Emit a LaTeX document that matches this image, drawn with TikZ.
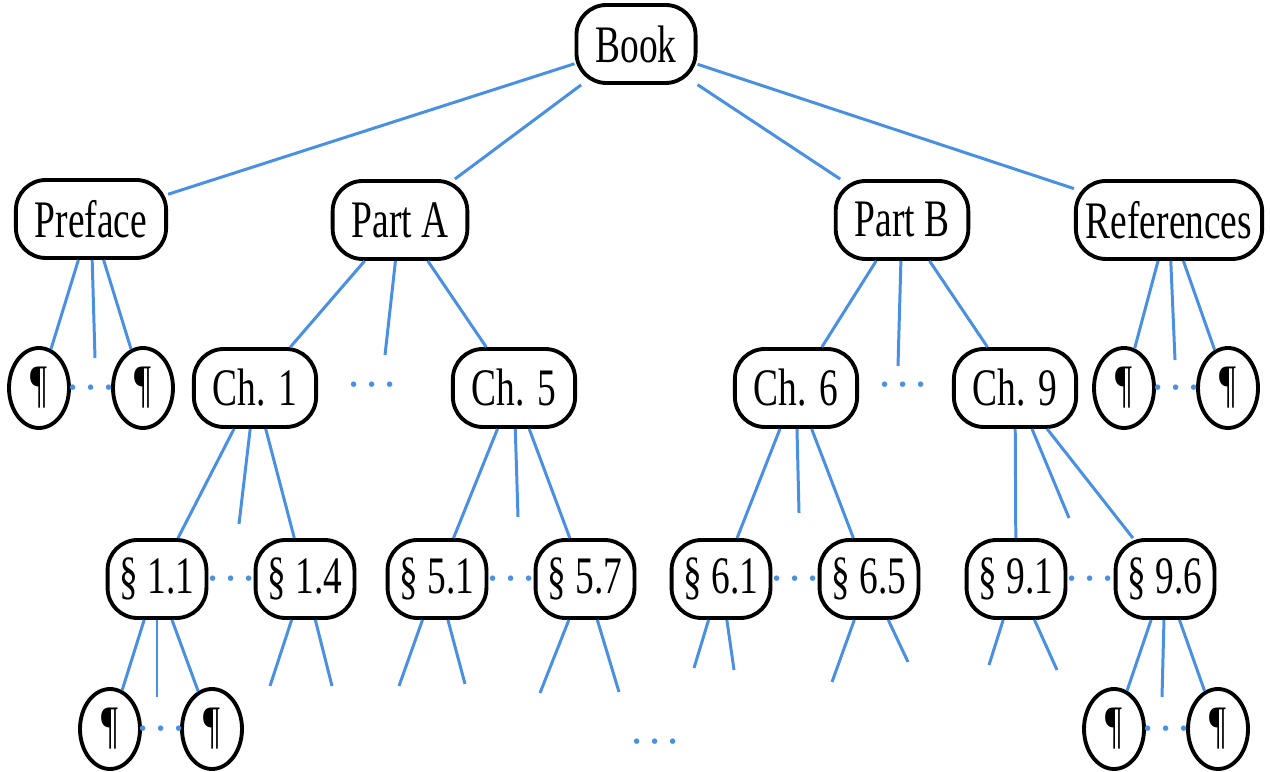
\documentclass[tikz,border=0pt]{standalone}
\usepackage{fontspec}
\setmainfont[FakeStretch=0.71]{Liberation Serif}
\usetikzlibrary{shapes.geometric}
\definecolor{treeblue}{RGB}{74,144,226}

\begin{document}
\begin{tikzpicture}[
        boxnode/.style={draw, line width=1.1pt, rounded corners=0.3cm, minimum height=0.78cm,
            inner xsep=0.19cm, inner ysep=0pt, font=\fontsize{15}{15}\selectfont},
        secnode/.style={boxnode, inner xsep=0.12cm},
        parnode/.style={draw, line width=1.1pt, ellipse, minimum width=0.6cm, minimum height=0.8cm,
            inner sep=0pt, font=\fontsize{15}{15}\selectfont},
        link/.style={treeblue, line width=0.85pt},
        moredots/.style={text=treeblue, font=\fontsize{10}{10}\selectfont\boldmath, inner sep=0pt}
    ]
        \useasboundingbox (0,0) rectangle (12.71,-7.72);

        % Root and the four parts
        \node[boxnode] (book) at (6.36,-0.44) {Book};
        \node[boxnode] (preface) at (0.91,-2.19) {Preface};
        \node[boxnode] (parta) at (4.00,-2.20) {Part A};
        \node[boxnode] (partb) at (9.02,-2.20) {Part B};
        \node[boxnode, inner xsep=0.1cm] (refs) at (11.69,-2.20) {References};

        % Chapters and paragraphs
        \node[parnode] (prefpa) at (0.39,-3.88) {¶};
        \node[parnode] (prefpb) at (1.43,-3.88) {¶};
        \node[boxnode] (ch1) at (2.55,-3.88) {Ch. 1};
        \node[boxnode] (ch5) at (5.14,-3.88) {Ch. 5};
        \node[boxnode] (ch6) at (7.96,-3.88) {Ch. 6};
        \node[boxnode] (ch9) at (10.15,-3.88) {Ch. 9};
        \node[parnode] (refpa) at (11.24,-3.88) {¶};
        \node[parnode] (refpb) at (12.28,-3.88) {¶};
        \node[moredots] (partadots) at (3.72,-3.85) {$\cdots$};
        \node[moredots] (partbdots) at (9.03,-3.85) {$\cdots$};

        % Sections
        \node[secnode] (s11) at (1.57,-5.79) {§ 1.1};
        \node[secnode] (s14) at (3.05,-5.79) {§ 1.4};
        \node[secnode] (s51) at (4.37,-5.79) {§ 5.1};
        \node[secnode] (s57) at (5.85,-5.79) {§ 5.7};
        \node[secnode] (s61) at (7.21,-5.79) {§ 6.1};
        \node[secnode] (s65) at (8.69,-5.79) {§ 6.5};
        \node[secnode] (s91) at (10.16,-5.79) {§ 9.1};
        \node[secnode] (s96) at (11.65,-5.79) {§ 9.6};

        % Paragraphs of the sections
        \node[parnode] (s11pa) at (1.10,-7.29) {¶};
        \node[parnode] (s11pb) at (2.12,-7.29) {¶};
        \node[parnode] (s96pa) at (11.14,-7.29) {¶};
        \node[parnode] (s96pb) at (12.18,-7.29) {¶};
        \node[moredots] (bottomdots) at (6.55,-7.42) {$\cdots$};

        % Free ends of the short lines
        \coordinate (prefstub) at (0.95,-3.58);
        \coordinate (partastub) at (3.85,-3.55);
        \coordinate (partbstub) at (8.98,-3.66);
        \coordinate (refstub) at (11.75,-3.60);
        \coordinate (ch1stub) at (2.39,-5.24);
        \coordinate (ch5stub) at (5.18,-5.17);
        \coordinate (ch6stub) at (7.99,-5.13);
        \coordinate (ch9stub) at (10.69,-5.18);
        \coordinate (s11stub) at (1.57,-6.97);
        \coordinate (s14a) at (2.70,-6.86);
        \coordinate (s14b) at (3.32,-6.86);
        \coordinate (s51a) at (3.99,-6.86);
        \coordinate (s51b) at (4.65,-6.84);
        \coordinate (s57a) at (5.40,-6.93);
        \coordinate (s57b) at (6.19,-6.92);
        \coordinate (s61a) at (6.94,-6.68);
        \coordinate (s61b) at (7.34,-6.70);
        \coordinate (s65a) at (8.32,-6.82);
        \coordinate (s65b) at (9.08,-6.62);
        \coordinate (s91a) at (9.89,-6.65);
        \coordinate (s91b) at (10.57,-6.70);
        \coordinate (s96stub) at (11.62,-6.97);

        % Book to parts
        \draw[link] (book) -- (preface);
        \draw[link] (book) -- (parta);
        \draw[link] (book) -- (partb);
        \draw[link] (book) -- (refs);

        % Parts to chapters
        \draw[link] (preface) -- (prefpa);
        \draw[link] (preface) -- (prefstub);
        \draw[link] (preface) -- (prefpb);
        \draw[link] (parta) -- (ch1);
        \draw[link] (parta) -- (partastub);
        \draw[link] (parta) -- (ch5);
        \draw[link] (partb) -- (ch6);
        \draw[link] (partb) -- (partbstub);
        \draw[link] (partb) -- (ch9);
        \draw[link] (refs) -- (refpa);
        \draw[link] (refs) -- (refstub);
        \draw[link] (refs) -- (refpb);

        % Chapters to sections
        \draw[link] (ch1) -- (s11);
        \draw[link] (ch1) -- (ch1stub);
        \draw[link] (ch1) -- (s14);
        \draw[link] (ch5) -- (s51);
        \draw[link] (ch5) -- (ch5stub);
        \draw[link] (ch5) -- (s57);
        \draw[link] (ch6) -- (s61);
        \draw[link] (ch6) -- (ch6stub);
        \draw[link] (ch6) -- (s65);
        \draw[link] (ch9) -- (s91);
        \draw[link] (ch9) -- (ch9stub);
        \draw[link] (ch9) -- (s96);

        % Sections downwards
        \draw[link] (s11) -- (s11pa);
        \draw[link] (s11) -- (s11stub);
        \draw[link] (s11) -- (s11pb);
        \draw[link] (s14) -- (s14a);
        \draw[link] (s14) -- (s14b);
        \draw[link] (s51) -- (s51a);
        \draw[link] (s51) -- (s51b);
        \draw[link] (s57) -- (s57a);
        \draw[link] (s57) -- (s57b);
        \draw[link] (s61) -- (s61a);
        \draw[link] (s61) -- (s61b);
        \draw[link] (s65) -- (s65a);
        \draw[link] (s65) -- (s65b);
        \draw[link] (s91) -- (s91a);
        \draw[link] (s91) -- (s91b);
        \draw[link] (s96) -- (s96pa);
        \draw[link] (s96) -- (s96stub);
        \draw[link] (s96) -- (s96pb);

        % Dots between siblings
        \path (prefpa) -- node[moredots] {$\cdots$} (prefpb);
        \path (refpa) -- node[moredots] {$\cdots$} (refpb);
        \path (s11) -- node[moredots] {$\cdots$} (s14);
        \path (s51) -- node[moredots] {$\cdots$} (s57);
        \path (s61) -- node[moredots] {$\cdots$} (s65);
        \path (s91) -- node[moredots] {$\cdots$} (s96);
        \path (s11pa) -- node[moredots] {$\cdots$} (s11pb);
        \path (s96pa) -- node[moredots] {$\cdots$} (s96pb);
    \end{tikzpicture}
\end{document}
